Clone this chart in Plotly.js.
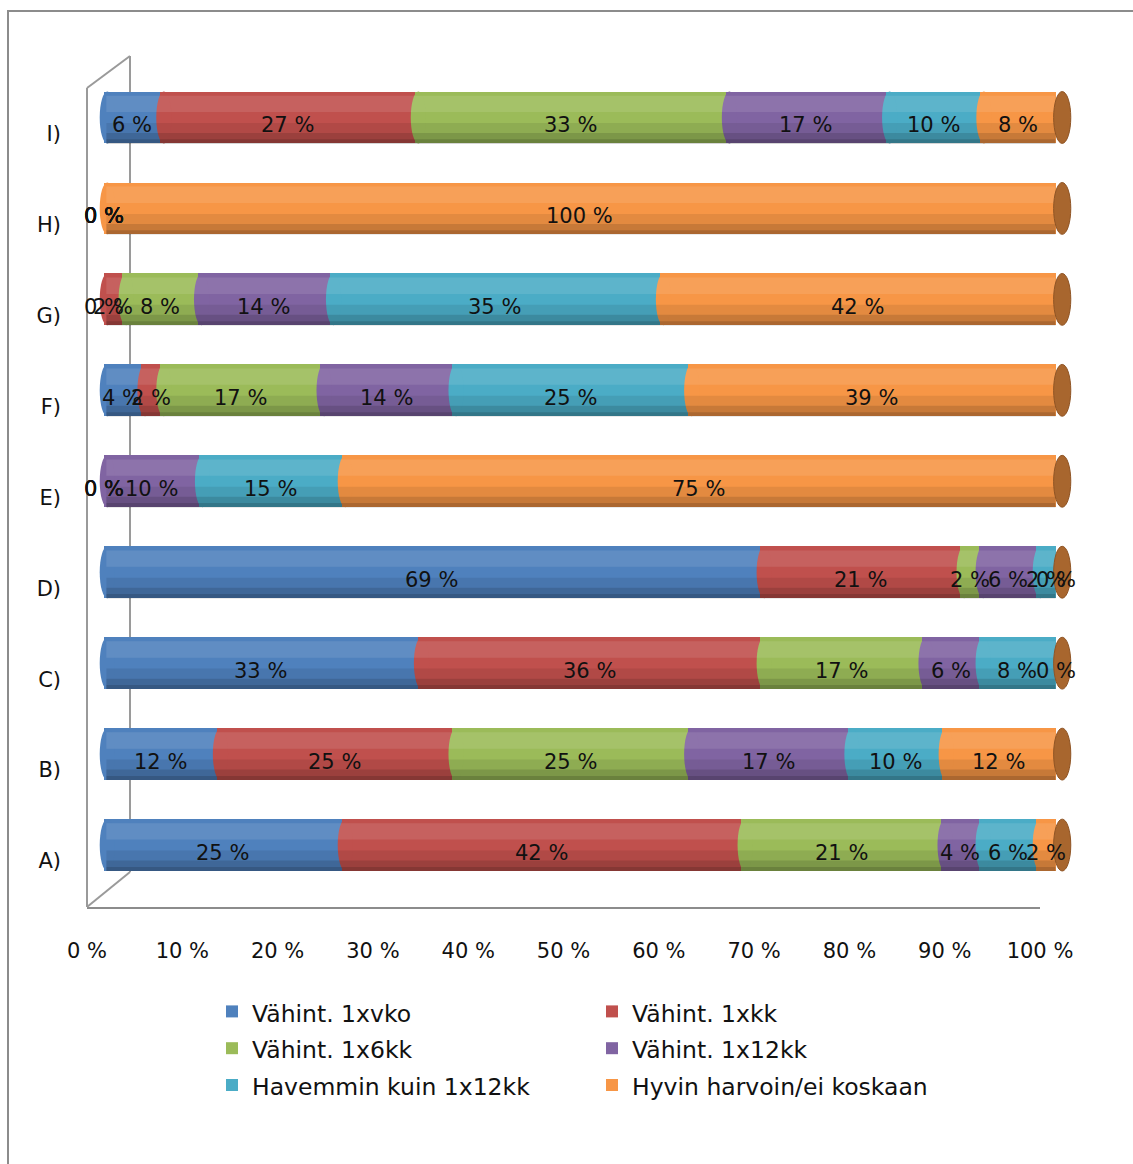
<!DOCTYPE html>
<html>
<head>
<meta charset="utf-8">
<script src="https://cdn.plot.ly/plotly-3.0.1.min.js"></script>
<style>html,body{margin:0;padding:0;background:#fff;}#chart{width:1133px;height:1164px;}</style>
</head>
<body>
<div id="chart"></div>
<script>
// ---- data ----
const categories = ['A)', 'B)', 'C)', 'D)', 'E)', 'F)', 'G)', 'H)', 'I)'];
const seriesNames = ['Vähint. 1xvko', 'Vähint. 1xkk', 'Vähint. 1x6kk', 'Vähint. 1x12kk', 'Havemmin kuin 1x12kk', 'Hyvin harvoin/ei koskaan'];
const vahint1xvko   = [25, 12, 33, 69, 0, 4, 0, 0, 6];
const vahint1xkk    = [42, 25, 36, 21, 0, 2, 2, 0, 27];
const vahint1x6kk   = [21, 25, 17, 2, 0, 17, 8, 0, 33];
const vahint1x12kk  = [4, 17, 6, 6, 10, 14, 14, 0, 17];
const havemmin12kk  = [6, 10, 8, 2, 15, 25, 35, 0, 10];
const hyvinHarvoin  = [2, 12, 0, 0, 75, 39, 42, 100, 8];
const tickValues = [0, 10, 20, 30, 40, 50, 60, 70, 80, 90, 100];
const tickLabels = ['0 %', '10 %', '20 %', '30 %', '40 %', '50 %', '60 %', '70 %', '80 %', '90 %', '100 %'];

// ---- styles ----
const colors = ['#4F81BD', '#C0504D', '#9BBB59', '#8064A2', '#4BACC6', '#F79646'];
const series = [vahint1xvko, vahint1xkk, vahint1x6kk, vahint1x12kk, havemmin12kk, hyvinHarvoin];
const FONT = 'DejaVu Sans, Verdana, sans-serif';
const W = 1133, H = 1164, ML = 84, MR = 53, MT = 72, MB = 257;
const PW = W - ML - MR, PH = H - MT - MB;
const px = v => (v - ML) / PW;
const py = v => (H - MB - v) / PH;
const BW = 0.57, HALF = BW / 2;
const X0 = -2.05, X1 = 102.57;

const totals = categories.map((c, i) => series.reduce((s, arr) => s + arr[i], 0));

const traces = series.map((arr, k) => ({
  type: 'bar', orientation: 'h', name: '<span style="font-size:23.5px">' + seriesNames[k] + '</span>',
  y: categories, x: arr, width: BW,
  marker: {color: colors[k], line: {width: 0}},
  hoverinfo: 'skip', textposition: 'none'
}));

const annotations = [];
const shapes = [];
// outer border
shapes.push({type: 'rect', xref: 'paper', yref: 'paper', x0: px(8), y0: py(11), x1: px(1145), y1: py(1180), line: {color: '#8c8c8c', width: 2}, layer: 'below'});
// 3D walls
const wall = {color: '#9a9a9a', width: 2};
shapes.push({type: 'line', xref: 'paper', yref: 'paper', x0: px(130), y0: py(56), x1: px(130), y1: py(872), line: wall, layer: 'below'});
shapes.push({type: 'line', xref: 'paper', yref: 'paper', x0: px(87), y0: py(88), x1: px(130), y1: py(56), line: wall});
shapes.push({type: 'line', xref: 'paper', yref: 'paper', x0: px(87), y0: py(88), x1: px(87), y1: py(907), line: wall});
shapes.push({type: 'line', xref: 'paper', yref: 'paper', x0: px(87), y0: py(907), x1: px(130), y1: py(872), line: wall});

categories.forEach((c, i) => {
  let cum = 0;
  series.forEach((arr, k) => {
    const v = arr[i];
    const start = cum / totals[i] * 100;
    const mid = (cum + v / 2) / totals[i] * 100;
    cum += v;
    annotations.push({
      x: mid, y: i, xref: 'x', yref: 'y', text: v + ' %', showarrow: false,
      yshift: -8, font: {family: FONT, size: 21, color: '#111'}
    });
    // convex left edge of each cylinder segment
    if (v > 0) {
      shapes.push({type: 'circle', xref: 'x', yref: 'y', x0: start - 0.4, x1: start + 1.2, y0: i - HALF, y1: i + HALF,
        fillcolor: colors[k], line: {width: 0}});
    }
  });
  // cylinder shading bands
  shapes.push({type: 'rect', xref: 'x', yref: 'y', x0: 0.3, x1: 100, y0: i + 0.06, y1: i + 0.24, fillcolor: 'rgba(255,255,255,0.10)', line: {width: 0}});
  shapes.push({type: 'rect', xref: 'x', yref: 'y', x0: 0.3, x1: 100, y0: i - HALF, y1: i - 0.06, fillcolor: 'rgba(0,0,0,0.08)', line: {width: 0}});
  shapes.push({type: 'rect', xref: 'x', yref: 'y', x0: 0.3, x1: 100, y0: i - HALF, y1: i - 0.17, fillcolor: 'rgba(0,0,0,0.12)', line: {width: 0}});
  shapes.push({type: 'rect', xref: 'x', yref: 'y', x0: 0.3, x1: 100, y0: i - HALF, y1: i - 0.24, fillcolor: 'rgba(0,0,0,0.14)', line: {width: 0}});
  // right end cap
  shapes.push({type: 'circle', xref: 'x', yref: 'y', x0: 99.8, x1: 101.6, y0: i - HALF, y1: i + HALF,
    fillcolor: '#A8662E', line: {color: '#8f5424', width: 1}});
});

const layout = {
  width: W, height: H,
  margin: {l: ML, r: MR, t: MT, b: MB, pad: 0},
  paper_bgcolor: '#ffffff', plot_bgcolor: 'rgba(0,0,0,0)',
  barmode: 'stack', barnorm: 'percent', bargap: 0.43,
  font: {family: FONT, size: 21, color: '#111'},
  showlegend: true,
  xaxis: {range: [X0, X1], showticklabels: false, showgrid: false, zeroline: false, showline: false, ticks: '', fixedrange: true},
  xaxis2: {domain: [px(87), px(1040)], range: [0, 100], anchor: 'y', showline: true, linecolor: '#8c8c8c', linewidth: 2,
    showgrid: false, zeroline: false, ticks: '', tickvals: tickValues, ticktext: tickLabels,
    ticklabelstandoff: 24, tickfont: {family: FONT, size: 21, color: '#111'}},
  yaxis: {type: 'category', categoryorder: 'array', categoryarray: categories, range: [-0.681, 8.5],
    showgrid: false, zeroline: false, showline: false, ticks: '', ticklabelstandoff: 22, ticklabelshift: 16,
    tickfont: {family: FONT, size: 21, color: '#111'}, fixedrange: true},
  legend: {orientation: 'h', traceorder: 'normal', x: px(212), xanchor: 'left', y: py(988), yanchor: 'top',
    entrywidth: 335, font: {family: FONT, size: 26, color: '#111'}, bgcolor: 'rgba(0,0,0,0)'},
  shapes: shapes,
  annotations: annotations
};

const axisTrace = {type: 'scatter', x: [], y: [], xaxis: 'x2', yaxis: 'y', showlegend: false, hoverinfo: 'skip'};

Plotly.newPlot('chart', traces.concat([axisTrace]), layout, {displayModeBar: false, staticPlot: true});
</script>
</body>
</html>
